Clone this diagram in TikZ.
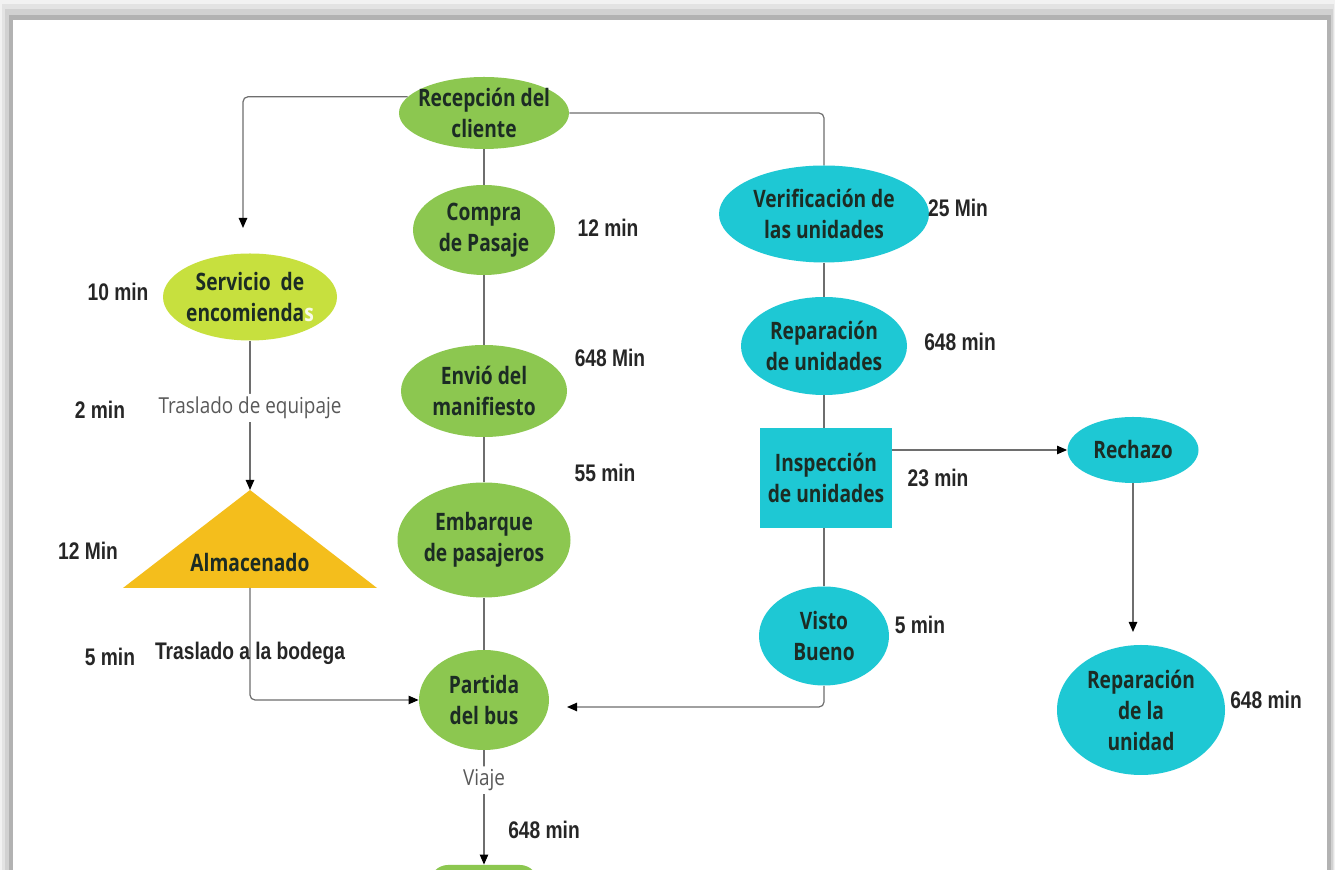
\documentclass[tikz,border=0pt]{standalone}
\usepackage{fontspec}
\setmainfont{Open Sans}
\newfontfamily\procfont[FakeStretch=0.8]{Open Sans}
\newfontfamily\timefont[FakeStretch=0.8]{Liberation Sans}
\newfontfamily\routefont[FakeStretch=0.86]{Open Sans}
\usepackage{tikz}
\usetikzlibrary{arrows.meta,positioning,calc,shapes.geometric}
\definecolor{procgreen}{RGB}{140,199,80}
\definecolor{parcellime}{RGB}{199,224,62}
\definecolor{unitteal}{RGB}{30,200,212}
\definecolor{storeamber}{RGB}{244,190,28}
\definecolor{inkdark}{RGB}{28,44,36}
\definecolor{wiregrey}{RGB}{110,110,110}
\tikzset{
  base/.style={font=\procfont\bfseries\fontsize{12}{15.5}\selectfont, align=center, text=inkdark, inner sep=-5pt},
  proc/.style={base, ellipse, fill=procgreen},
  parcel/.style={base, ellipse, fill=parcellime},
  unit/.style={base, ellipse, fill=unitteal},
  check/.style={base, rectangle, fill=unitteal},
  stopbox/.style={base, rectangle, rounded corners=9pt, fill=procgreen},
  time/.style={font=\timefont\bfseries\fontsize{12}{14}\selectfont, text=black!85, inner sep=1pt},
  route/.style={font=\routefont\fontsize{11}{13}\selectfont, text=black!65, inner sep=1.5pt, fill=white},
  wire/.style={draw=wiregrey, line width=0.6pt, rounded corners=2.5pt},
  arr/.style={wire, -{Triangle[length=5pt,width=4.2pt,color=black]}},
}
\begin{document}
\begin{tikzpicture}[x=0.5pt,y=-0.5pt]
  \useasboundingbox (0,0) rectangle (1335,870);
  \fill[black!5] (0,0) rectangle (1335,870);
  \fill[black!11] (2,4) rectangle (1334,870);
  \fill[black!18] (5,9) rectangle (1333,870);
  \fill[black!30] (9,15) rectangle (1331,870);
  \fill[white] (13,20) rectangle (1327,870);

  \node[proc, minimum width=85pt, minimum height=36pt] (recep) at (484,113) {Recepción del\\cliente};
  \node[proc, minimum width=71pt, minimum height=45pt] (compra) at (484,230) {Compra\\de Pasaje};
  \node[proc, minimum width=83pt, minimum height=46pt] (envio) at (484,391) {Envió del\\manifiesto};
  \node[proc, minimum width=86.5pt, minimum height=57.5pt] (embarque) at (484,540) {Embarque\\de pasajeros};
  \node[proc, minimum width=65pt, minimum height=50pt] (partida) at (484,700) {Partida\\del bus};
  \node[stopbox, minimum width=54pt, minimum height=30pt] (destino) at (484,895) {};
  \node[parcel, minimum width=87pt, minimum height=43.5pt] (serv) at (250,297) {Servicio\ \ de\\encomienda\textcolor{white!88!parcellime}{s}};
  \node[unit, minimum width=105pt, minimum height=48.5pt] (verif) at (824,214) {Verificación de\\las unidades};
  \node[unit, minimum width=83pt, minimum height=49pt] (repar) at (824,346) {Reparación\\de unidades};
  \node[check, minimum width=66pt, minimum height=50pt] (insp) at (826,478) {Inspección\\de unidades};
  \node[unit, minimum width=65pt, minimum height=49.5pt] (visto) at (824,636) {Visto\\Bueno};
  \node[unit, minimum width=65.5pt, minimum height=33pt] (rech) at (1133,450) {Rechazo};
  \node[unit, minimum width=84pt, minimum height=65pt] (repuni) at (1141,710) {Reparación\\de la\\unidad};

  \coordinate (almtop) at (250,490);
  \coordinate (almbase) at (250,588);
  \fill[storeamber] (123,588) -- (almtop) -- (377,588) -- cycle;
  \node[base] (almac) at (250,563) {Almacenado};

  \coordinate (servin) at (243,228);
  \coordinate (partin) at (567,707);
  \coordinate (repin) at (1133,632);

  \draw[arr] (recep.168) -| (servin);
  \draw[wire] (recep.east) -| (verif.north);
  \draw[wire] (recep) -- (compra);
  \draw[wire] (compra) -- (envio);
  \draw[wire] (envio) -- (embarque);
  \draw[wire] (embarque) -- (partida);
  \draw[arr] (partida) -- node[route, pos=0.26] (viaje) {Viaje} (destino);
  \draw[arr] (serv) -- node[route, pos=0.45] (tequip) {Traslado de equipaje} (almtop);
  \draw[arr] (almbase) |- node[time, pos=0.29] (tbodega) {Traslado a la bodega} (partida.west);
  \draw[wire] (verif) -- (repar);
  \draw[wire] (repar) -- (repar |- insp.north);
  \draw[wire] (repar |- insp.south) -- (visto);
  \draw[arr] (visto.south) |- (partin);
  \draw[arr] (insp.east |- rech.west) -- (rech.west);
  \draw[arr] (rech.south) -- (repin);

  \node[time] (tcompra) at (608,228) {12 min};
  \node[time] (tverif) at (958,208) {25 Min};
  \node[time] (tserv) at (118,292) {10 min};
  \node[time] (tenvio) at (610,358) {648 Min};
  \node[time] (trepar) at (960,342) {648 min};
  \node[time] (tequipmin) at (100,410) {2 min};
  \node[time] (tembarque) at (605,473) {55 min};
  \node[time] (tinsp) at (938,478) {23 min};
  \node[time] (talmac) at (88,551) {12 Min};
  \node[time] (tvisto) at (920,625) {5 min};
  \node[time] (tbodegamin) at (110,657) {5 min};
  \node[time] (trepuni) at (1266,700) {648 min};
  \node[time] (tviaje) at (544,830) {648 min};
\end{tikzpicture}
\end{document}
